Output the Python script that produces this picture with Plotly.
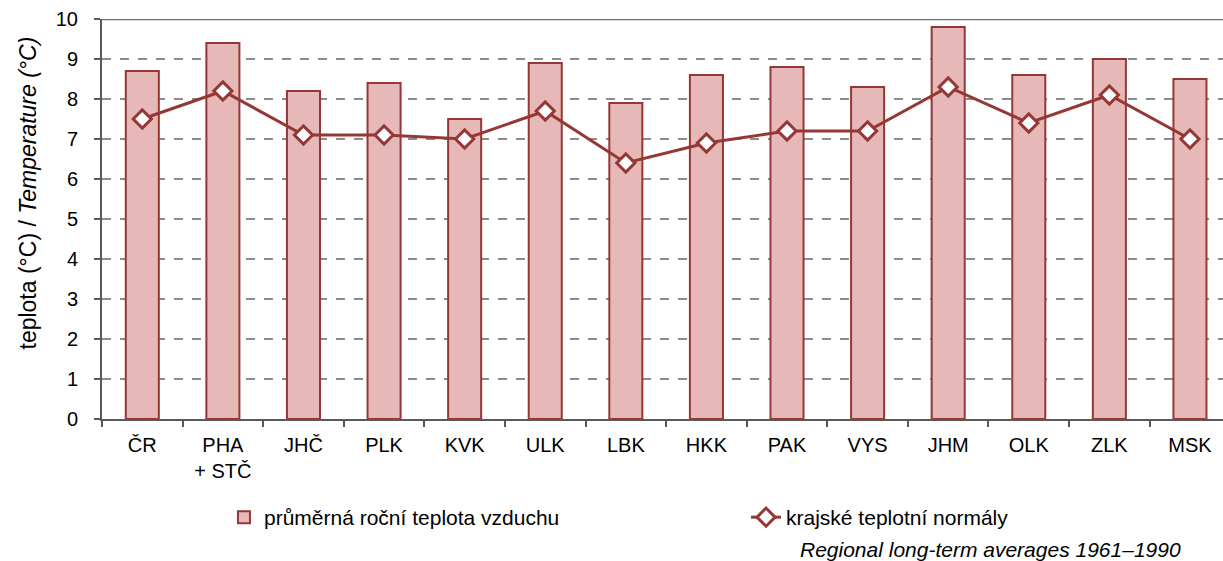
import plotly.graph_objects as go

categories = ["ČR", "PHA<br>+ STČ", "JHČ", "PLK", "KVK", "ULK", "LBK", "HKK", "PAK", "VYS", "JHM", "OLK", "ZLK", "MSK"]
annual_temp = [8.7, 9.4, 8.2, 8.4, 7.5, 8.9, 7.9, 8.6, 8.8, 8.3, 9.8, 8.6, 9.0, 8.5]
normals = [7.5, 8.2, 7.1, 7.1, 7.0, 7.7, 6.4, 6.9, 7.2, 7.2, 8.3, 7.4, 8.1, 7.0]
y_ticks = list(range(0, 11))

dark = "#953735"
fill = "#E6B9B8"
font = "Liberation Sans, Arial, sans-serif"

fig = go.Figure()
fig.add_trace(go.Bar(
    x=categories, y=annual_temp, name="průměrná roční teplota vzduchu",
    marker=dict(color=fill, line=dict(color=dark, width=2)),
    width=0.41, legend="legend",
))
fig.add_trace(go.Scatter(
    x=categories, y=normals, name="krajské teplotní normály",
    mode="lines+markers",
    line=dict(color=dark, width=3),
    marker=dict(symbol="diamond", size=14, color="white", line=dict(color=dark, width=3)),
    legend="legend2",
))

fig.update_layout(
    width=1223, height=561,
    margin=dict(l=102, r=0, t=19, b=142),
    paper_bgcolor="white", plot_bgcolor="white",
    font=dict(family=font, size=20, color="black"),
    showlegend=True,
    legend=dict(orientation="h", x=0.1088, xanchor="left", y=-0.195, yanchor="top",
                font=dict(size=21), bgcolor="rgba(0,0,0,0)"),
    legend2=dict(orientation="h", x=0.5745, xanchor="left", y=-0.195, yanchor="top",
                 font=dict(size=21), bgcolor="rgba(0,0,0,0)"),
    xaxis=dict(
        type="category", range=[-0.5, 13.41],
        showline=True, linecolor="#595959", linewidth=2,
        ticks="outside", tickson="boundaries", ticklen=6, tickcolor="#595959", tickwidth=1.5,
        showgrid=False, tickfont=dict(size=20), ticklabelstandoff=7,
    ),
    yaxis=dict(
        range=[0, 10], tickvals=y_ticks, ticks="outside", ticklen=6,
        tickcolor="#595959", tickwidth=1.5, ticklabelstandoff=12,
        showline=True, linecolor="#595959", linewidth=2,
        showgrid=True, gridcolor="#8c8c8c", griddash="dash", gridwidth=1.5,
        zeroline=False, tickfont=dict(size=20),
    ),
    bargap=0.5,
)

fig.add_shape(type="line", xref="paper", yref="y", x0=0, x1=1, y0=10, y1=10,
              line=dict(color="#6e6e6e", width=2.5), layer="above")

fig.add_annotation(
    text="teplota (°C) / <i>Temperature (°C)</i>", textangle=-90,
    xref="paper", yref="paper", x=(27 - 102) / 1121, y=(419 - 193.5) / 400,
    xanchor="center", yanchor="middle", showarrow=False, font=dict(size=23),
)

fig.add_annotation(
    text="<i>Regional long-term averages 1961–1990</i>",
    xref="paper", yref="paper", x=(1183 - 102) / 1121, y=-(549 - 419) / 400,
    xanchor="right", yanchor="middle", showarrow=False, font=dict(size=21),
)

fig.write_html("out.html", config={"displayModeBar": False},
               post_script="document.body.style.margin='0';document.body.style.overflow='hidden';")
